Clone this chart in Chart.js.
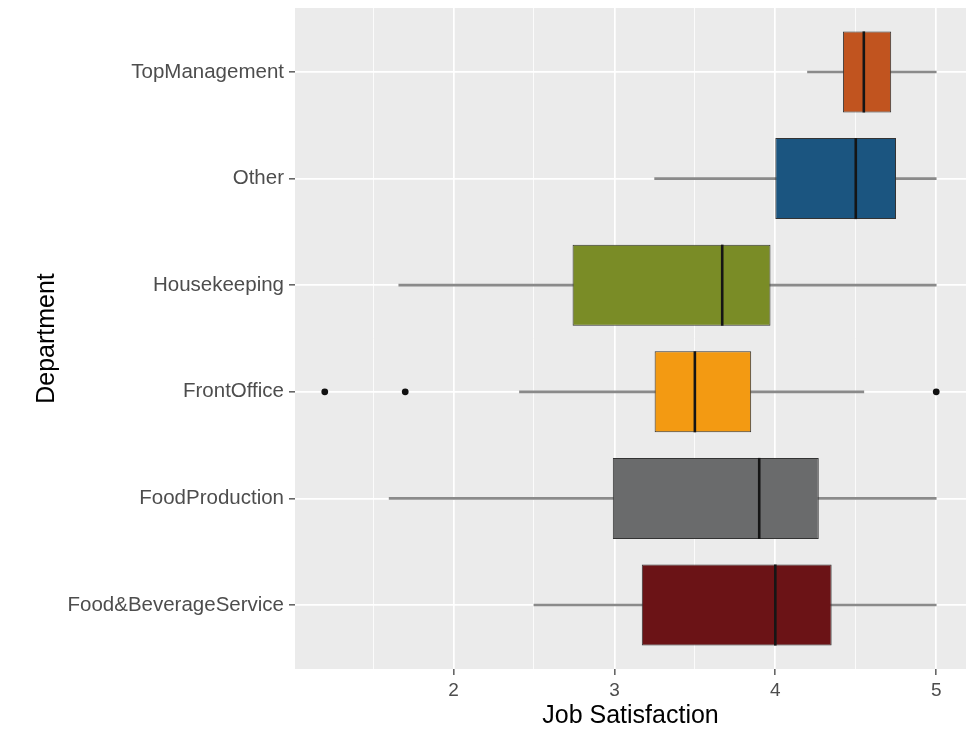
<!DOCTYPE html>
<html>
<head>
<meta charset="utf-8">
<script src="https://cdn.jsdelivr.net/npm/chart.js@4.4.1/dist/chart.umd.min.js"></script>
<style>
  body { margin: 0; background: #fff; }
</style>
</head>
<body>
<canvas id="myChart" width="975" height="735"></canvas>
<script>
// departments, bottom to top (ggplot factor order)
const departments = ['Food&BeverageService', 'FoodProduction', 'FrontOffice', 'Housekeeping', 'Other', 'TopManagement'];
const positions = [1, 2, 3, 4, 5, 6];

// box statistics
const whiskerLow  = [2.50, 1.60, 2.41, 1.66, 3.25, 4.20];
const lowerQuart  = [3.17, 2.99, 3.25, 2.74, 4.00, 4.42];
const medians     = [4.00, 3.90, 3.50, 3.67, 4.50, 4.55];
const upperQuart  = [4.35, 4.27, 3.85, 3.97, 4.75, 4.72];
const whiskerHigh = [5.00, 5.00, 4.55, 5.00, 5.00, 5.00];

// outliers (only FrontOffice has them)
const outlierDept = [3, 3, 3];
const outlierVals = [1.20, 1.70, 5.00];

const boxColors = ['#6B1316', '#6A6B6C', '#F39A12', '#7A8C26', '#1B5580', '#C1541F'];

const majorTicks = [2, 3, 4, 5];
const minorTicks = [1.5, 2.5, 3.5, 4.5];

const fontFamily = "'Liberation Sans', Arial, sans-serif";

// grey panel behind the plot
const panelBg = {
  id: 'panelBg',
  beforeDraw(chart) {
    const { ctx, chartArea: a } = chart;
    ctx.save();
    ctx.fillStyle = '#EBEBEB';
    ctx.fillRect(a.left, a.top, a.right - a.left, a.bottom - a.top);
    ctx.restore();
  }
};

// half the box height, in pixels, taken from the y scale
function boxHalf(chart) {
  const y = chart.scales.y;
  return Math.abs(y.getPixelForValue(0.38) - y.getPixelForValue(0));
}

const ctx = document.getElementById('myChart').getContext('2d');
const myChart = new Chart(ctx, {
  type: 'bar',
  data: {
    datasets: [
      {
        label: 'whiskers',
        data: positions.map((p, i) => ({ y: p, x: [whiskerLow[i], whiskerHigh[i]] })),
        backgroundColor: '#8A8A8A',
        borderWidth: 0,
        barThickness: 2,
        grouped: false,
        order: 4,
      },
      {
        label: 'boxes',
        data: positions.map((p, i) => ({ y: p, x: [lowerQuart[i], upperQuart[i]] })),
        backgroundColor: boxColors,
        borderColor: '#333333',
        borderWidth: 1,
        borderSkipped: false,
        barPercentage: 0.76,
        categoryPercentage: 1,
        grouped: false,
        order: 3,
      },
      {
        type: 'scatter',
        label: 'medians',
        data: positions.map((p, i) => ({ x: medians[i], y: p })),
        pointStyle: 'line',
        rotation: 90,
        radius: (c) => boxHalf(c.chart),
        borderColor: '#151515',
        borderWidth: 2.6,
        order: 2,
      },
      {
        type: 'scatter',
        label: 'outliers',
        data: outlierDept.map((p, i) => ({ x: outlierVals[i], y: p })),
        pointStyle: 'circle',
        radius: 3.4,
        backgroundColor: '#111111',
        borderWidth: 0,
        order: 1,
      },
    ],
  },
  options: {
    responsive: false,
    animation: false,
    events: [],
    indexAxis: 'y',
    layout: { padding: { top: 8, right: 9, left: 0, bottom: 0 } },
    plugins: {
      legend: { display: false },
      tooltip: { enabled: false },
    },
    scales: {
      x: {
        type: 'linear',
        min: 1.015,
        max: 5.185,
        beginAtZero: false,
        border: { display: false },
        afterBuildTicks: (axis) => {
          axis.ticks = [...minorTicks, ...majorTicks].sort((a, b) => a - b).map((v) => ({ value: v }));
        },
        afterFit: (axis) => {
          axis.height = 66;
          axis.paddingLeft = 0;
          axis.paddingRight = 0;
        },
        grid: {
          color: '#FFFFFF',
          lineWidth: (c) => (majorTicks.includes(c.tick && c.tick.value) ? 1.7 : 0.8),
          tickColor: (c) => (majorTicks.includes(c.tick && c.tick.value) ? '#333333' : 'rgba(0,0,0,0)'),
          tickWidth: 1.2,
          tickLength: 6,
        },
        ticks: {
          autoSkip: false,
          maxRotation: 0,
          padding: 4,
          color: '#4D4D4D',
          font: { family: fontFamily, size: 19 },
          callback: (v) => (majorTicks.includes(v) ? String(v) : ''),
        },
        title: {
          display: true,
          text: 'Job Satisfaction',
          color: '#000000',
          font: { family: fontFamily, size: 25 },
          padding: { top: 0, bottom: 4 },
        },
      },
      y: {
        type: 'linear',
        min: 0.4,
        max: 6.6,
        offset: false,
        border: { display: false },
        afterBuildTicks: (axis) => {
          axis.ticks = positions.map((v) => ({ value: v }));
        },
        afterFit: (axis) => {
          axis.width = 295;
          axis.paddingTop = 0;
          axis.paddingBottom = 0;
        },
        grid: {
          offset: false,
          color: '#FFFFFF',
          lineWidth: 1.7,
          tickColor: '#333333',
          tickWidth: 1.2,
          tickLength: 6,
        },
        ticks: {
          autoSkip: false,
          padding: 5,
          color: '#4D4D4D',
          font: { family: fontFamily, size: 20.5 },
          callback: (v) => departments[positions.indexOf(v)],
        },
        title: {
          display: true,
          text: 'Department',
          color: '#000000',
          font: { family: fontFamily, size: 25 },
          padding: { top: 32, bottom: 0 },
        },
      },
    },
  },
  plugins: [panelBg],
});
</script>
</body>
</html>
